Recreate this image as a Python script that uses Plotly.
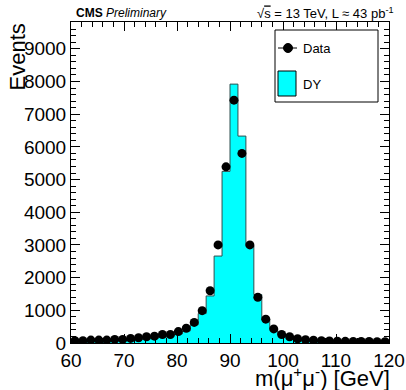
import numpy as np
import plotly.graph_objects as go

# ---- data ----
bin_edges = np.arange(60.0, 120.0 + 0.75, 1.5)  # 40 bins of 1.5 GeV
data_counts = [70, 70, 90, 90, 90, 110, 110, 140, 160, 190,
               210, 260, 260, 350, 450, 630, 990, 1600, 3000, 5390,
               7430, 5800, 3000, 1400, 730, 430, 260, 190, 130, 100,
               85, 70, 60, 55, 50, 45, 45, 45, 40, 40]
dy_counts = [55, 58, 62, 66, 72, 78, 86, 96, 110, 125,
             145, 175, 215, 275, 370, 560, 900, 1440, 2660, 5250,
             7920, 6330, 2980, 1480, 720, 420, 270, 190, 140, 110,
             90, 75, 65, 57, 50, 45, 41, 38, 35, 33]
x_ticks = [60, 70, 80, 90, 100, 110, 120]
y_ticks = [0, 1000, 2000, 3000, 4000, 5000, 6000, 7000, 8000, 9000]

centers = 0.5 * (bin_edges[:-1] + bin_edges[1:])
step_x = list(bin_edges)
step_y = list(dy_counts) + [dy_counts[-1]]

FONT = "Liberation Sans, Arial, Helvetica, sans-serif"
CYAN = "#00FFFF"

fig = go.Figure()
fig.add_trace(go.Scatter(
    x=step_x, y=step_y, mode="lines", line_shape="hv",
    line=dict(color="#2f4f4f", width=1), fill="tozeroy", fillcolor=CYAN,
    name="DY", showlegend=False, hoverinfo="skip"))
fig.add_trace(go.Scatter(
    x=centers, y=data_counts, mode="markers",
    marker=dict(color="black", size=9),
    error_y=dict(type="data", array=np.sqrt(data_counts), color="black", thickness=1, width=0),
    name="Data", showlegend=False))

# ---- layout geometry (pixels) ----
W, H = 406, 390
L, R, T, B = 71, 389, 22, 343


def px(x):
    return (x - L) / (R - L)


def py(y):
    return (B - y) / (B - T)


axis_common = dict(
    showgrid=False, zeroline=False, showline=True, linecolor="black", linewidth=1,
    mirror="allticks", ticks="inside", ticklen=9, tickcolor="black", tickwidth=1,
    tickfont=dict(family=FONT, size=19, color="black"), automargin=False,
)

fig.update_layout(
    template="none",
    width=W, height=H,
    margin=dict(l=L, r=W - R, t=T, b=H - B, pad=0, autoexpand=False),
    paper_bgcolor="white", plot_bgcolor="white",
    showlegend=False,
    xaxis=dict(range=[60, 120], tickvals=x_ticks, ticktext=[str(v) for v in x_ticks],
               minor=dict(ticks="inside", dtick=2, ticklen=5, tickcolor="black"),
               **axis_common),
    yaxis=dict(range=[0, 9820], tickvals=y_ticks, ticktext=[str(v) for v in y_ticks],
               minor=dict(ticks="inside", dtick=200, ticklen=5, tickcolor="black"),
               **axis_common),
)

annotations = [
    dict(text="Events", textangle=-90, x=px(17), y=1.0, xanchor="center", yanchor="top",
         font=dict(family=FONT, size=22, color="black")),
    dict(text="m(μ<sup>+</sup>μ<sup>-</sup>) [GeV]", x=px(392), y=py(377), xanchor="right", yanchor="middle",
         font=dict(family=FONT, size=22, color="black")),
    dict(text="<b>CMS</b> <i>Preliminary</i>", x=px(74), y=py(13), xanchor="left", yanchor="middle",
         font=dict(family=FONT, size=12, color="black")),
    dict(text="√<span style='text-decoration:overline'>s</span> = 13 TeV, L ≈ 43 pb<sup>-1</sup>",
         x=px(395), y=py(13), xanchor="right", yanchor="middle",
         font=dict(family=FONT, size=13, color="black")),
    dict(text="Data", x=px(301), y=py(48), xanchor="left", yanchor="middle",
         font=dict(family=FONT, size=13, color="black")),
    dict(text="DY", x=px(301), y=py(84), xanchor="left", yanchor="middle",
         font=dict(family=FONT, size=13, color="black")),
]
for a in annotations:
    a.update(xref="paper", yref="paper", showarrow=False)

shapes = [
    dict(type="rect", x0=px(275), x1=px(378), y0=py(102), y1=py(30),
         line=dict(color="black", width=1), fillcolor="white", layer="above"),
    dict(type="line", x0=px(278), x1=px(297), y0=py(48), y1=py(48),
         line=dict(color="black", width=1), layer="above"),
    dict(type="circle", x0=px(283.5), x1=px(292.5), y0=py(52.5), y1=py(43.5),
         line=dict(color="black", width=1), fillcolor="black", layer="above"),
    dict(type="rect", x0=px(278), x1=px(296), y0=py(96), y1=py(71),
         line=dict(color="black", width=1), fillcolor=CYAN, layer="above"),
]
for s in shapes:
    s.update(xref="paper", yref="paper")

fig.update_layout(annotations=annotations, shapes=shapes)
fig.write_html("out.html", config={"displayModeBar": False},
               post_script="document.body.style.margin='0px';")
